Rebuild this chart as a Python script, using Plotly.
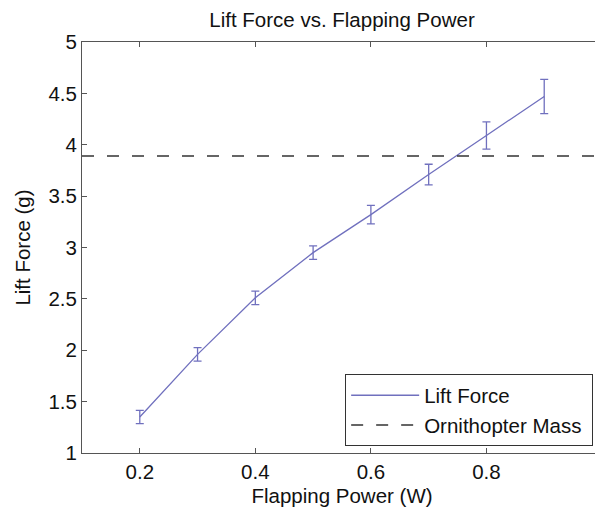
import plotly.graph_objects as go

power = [0.2, 0.3, 0.4, 0.5, 0.6, 0.7, 0.8, 0.9]
lift = [1.35, 1.96, 2.51, 2.95, 3.32, 3.71, 4.09, 4.47]
lift_err = [0.065, 0.065, 0.065, 0.066, 0.09, 0.10, 0.133, 0.167]
mass_x = [0.1, 1.0]
mass_y = [3.89, 3.89]
xticks = [0.2, 0.4, 0.6, 0.8, 1.0]
xticklabels = ["0.2", "0.4", "0.6", "0.8", "1"]
yticks = [1, 1.5, 2, 2.5, 3, 3.5, 4, 4.5, 5]
yticklabels = ["1", "1.5", "2", "2.5", "3", "3.5", "4", "4.5", "5"]

blue = "rgb(112,112,190)"
font = "Liberation Sans, Arial, Helvetica, sans-serif"
fs = 20.5

fig = go.Figure()
fig.add_trace(go.Scatter(
    x=power, y=lift, mode="lines", name="Lift Force",
    line=dict(color=blue, width=1.3),
    error_y=dict(type="data", array=lift_err, visible=True, color=blue, thickness=1.3, width=4),
))
fig.add_trace(go.Scatter(
    x=mass_x, y=mass_y, mode="lines", name="Ornithopter Mass\u00a0",
    line=dict(color="#333333", width=1.5, dash="12px,13px"),
))

axis_common = dict(
    showline=True, linecolor="#555555", linewidth=1, mirror="ticks",
    ticks="inside", ticklen=5, tickcolor="#555555", tickwidth=1,
    showgrid=False, zeroline=False, automargin=False,
    tickfont=dict(family=font, size=fs, color="#111111"),
)

# the page body adds an 8px offset, so the figure is sized/margined to compensate
fig.update_layout(
    width=595, height=502,
    margin=dict(l=74, r=1, t=34, b=57),
    paper_bgcolor="white", plot_bgcolor="white",
    title=dict(text="Lift Force vs. Flapping Power", x=0.5, xref="paper", xanchor="center",
               y=0.976, yanchor="middle", font=dict(family=font, size=fs, color="#111111")),
    xaxis=dict(range=[0.1, 1.0], tickvals=xticks, ticktext=xticklabels, ticklabeloverflow="allow",
               title=dict(text="Flapping Power (W)", font=dict(family=font, size=fs, color="#111111"), standoff=7),
               **axis_common),
    yaxis=dict(range=[1, 5], tickvals=yticks, ticktext=yticklabels,
               title=dict(text="Lift Force (g)", font=dict(family=font, size=fs, color="#111111"), standoff=12),
               **axis_common),
    legend=dict(x=0.983, y=0.016, xanchor="right", yanchor="bottom",
                bgcolor="white", bordercolor="#333333", borderwidth=1,
                font=dict(family=font, size=fs, color="#111111"),
                tracegroupgap=0, itemwidth=68),
    showlegend=True,
)

fig.write_html("out.html")
